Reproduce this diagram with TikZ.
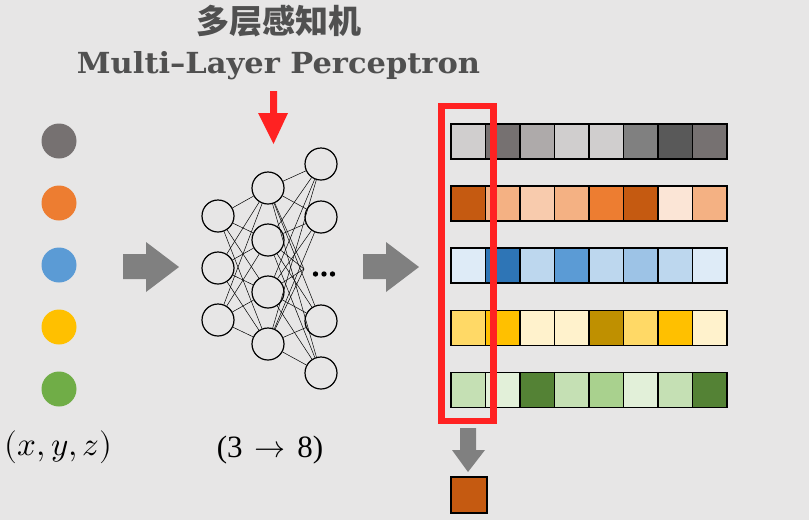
\documentclass[tikz,border=0pt]{standalone}
\usepackage{fontspec}
\usepackage{unicode-math}
\setmainfont{Liberation Serif}
\setmathfont{Latin Modern Math}
\newfontfamily\cjk{Noto Sans CJK SC}
\newfontfamily\titlefont{DejaVu Serif}
\definecolor{bg}{HTML}{E7E6E6}
\definecolor{titlegray}{HTML}{505050}
\definecolor{arrgray}{HTML}{808080}
\definecolor{myred}{HTML}{FF2222}
\definecolor{pgray}{HTML}{767171}
\definecolor{porange}{HTML}{ED7D31}
\definecolor{pblue}{HTML}{5B9BD5}
\definecolor{pyellow}{HTML}{FFC000}
\definecolor{pgreen}{HTML}{70AD47}
\tikzset{
  neuron/.style={circle, draw=black, line width=1.2pt, minimum size=32pt, inner sep=0pt},
  edge/.style={draw=black, line width=0.5pt},
  point/.style={circle, minimum size=35pt, inner sep=0pt},
  cell/.style={draw=black, line width=1.6pt, minimum width=34.5pt, minimum height=35pt, inner sep=0pt, anchor=north west},
  blockarrow/.style={fill=arrgray, draw=none},
  redarrow/.style={fill=myred, draw=none},
  lbl/.style={inner sep=0pt},
}
\begin{document}
\begin{tikzpicture}[x=1pt,y=-1pt]
\fill[bg] (0,0) rectangle (809,520);
\useasboundingbox (0,0) rectangle (809,520);

% titles
\node[lbl, text=titlegray, font=\cjk\bfseries\fontsize{33}{33}\selectfont] (t1) at (279,21) {多层感知机};
\node[lbl, anchor=base, text=titlegray, font=\titlefont\bfseries\fontsize{29}{29}\selectfont] (t2) at (278.5,73) {\resizebox{403pt}{\height}{Multi–Layer Perceptron}};

% red arrow
\fill[redarrow] (270,91) -- (277,91) -- (277,113) -- (288,113) -- (273.5,144) -- (258,113) -- (270,113) -- cycle;

% input points
\node[point, fill=pgray] (p1) at (59,141) {};
\node[point, fill=porange] (p2) at (59,203) {};
\node[point, fill=pblue] (p3) at (59,265) {};
\node[point, fill=pyellow] (p4) at (59,327) {};
\node[point, fill=pgreen] (p5) at (59,389) {};
\node[lbl, font=\fontsize{33}{33}\selectfont] (xyz) at (58.5,447) {$(x,y,z)$};

% block arrows
\fill[blockarrow] (123,254) -- (146,254) -- (146,242) -- (179,267) -- (146,292) -- (146,279) -- (123,279) -- cycle;
\fill[blockarrow] (363,254) -- (386,254) -- (386,242) -- (419,267) -- (386,292) -- (386,279) -- (363,279) -- cycle;

% network
\foreach \i/\y in {1/216,2/268,3/320} \node[neuron] (a\i) at (218,\y) {};
\foreach \i/\y in {1/188,2/240,3/292,4/344} \node[neuron] (b\i) at (268,\y) {};
\foreach \i/\y in {1/164,2/217,4/321,5/373} \node[neuron] (c\i) at (321,\y) {};
\coordinate (c3) at (304,269);
\foreach \i in {1,2,3} \foreach \j in {1,...,4} \draw[edge] (a\i) -- (b\j);
\foreach \j in {1,...,4} \foreach \k in {1,...,5} \draw[edge] (b\j) -- (c\k);
\foreach \x in {315.5,324,332.5} \fill[black] (\x,274) circle (2.7pt);
\node[lbl, font=\fontsize{31}{31}\selectfont] (dim) at (270,450) {(3\hspace{0.38em}$\rightarrow$\hspace{0.38em}8)};

% feature grid
\foreach \r/\cols in {
  0/{D0CECE,767171,AEAAAA,D0CECE,D0CECE,808080,595959,767171},
  1/{C55A11,F4B183,F8CBAD,F4B183,ED7D31,C55A11,FBE5D6,F4B183},
  2/{DEEBF7,2E75B6,BDD7EE,5B9BD5,BDD7EE,9DC3E6,BDD7EE,DEEBF7},
  3/{FFD966,FFC000,FFF2CC,FFF2CC,BF9000,FFD966,FFC000,FFF2CC},
  4/{C5E0B4,E2F0D9,548235,C5E0B4,A9D18E,E2F0D9,C5E0B4,548235}}{
  \foreach \c [count=\k from 0] in \cols {
    \definecolor{cellc}{HTML}{\c}
    \node[cell, fill=cellc] (g\r-\k) at ({450+34.5*\k},{123+62.2*\r}) {};
  }
}

% red selection box
\draw[myred, line width=6.5pt] (441.5,106) rectangle (493.5,421);

% down arrow and pooled result
\fill[blockarrow] (460,428) -- (476,428) -- (476,450) -- (485,450) -- (468,472) -- (452,450) -- (460,450) -- cycle;
\node[cell, fill={rgb,255:red,197;green,90;blue,17}, minimum width=36pt, minimum height=36pt] (res) at (450,476) {};
\end{tikzpicture}
\end{document}
